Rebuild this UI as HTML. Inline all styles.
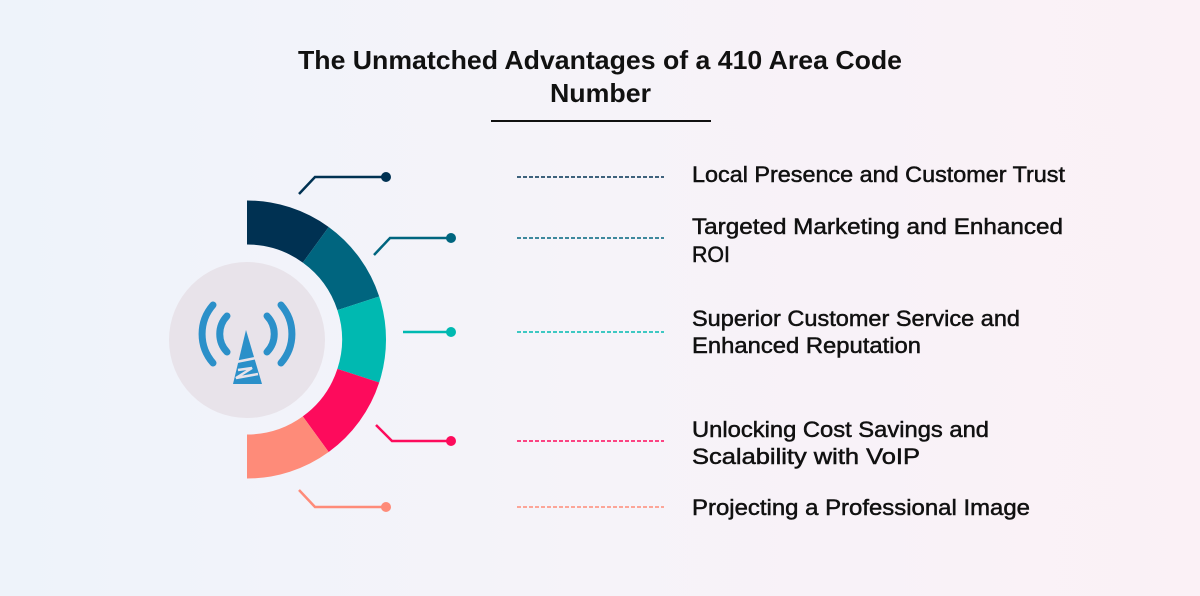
<!DOCTYPE html>
<html><head><meta charset="utf-8"><style>
html,body{margin:0;padding:0;}
body{width:1200px;height:596px;overflow:hidden;background:linear-gradient(90deg,#eef3fa 0%,#f6f3f9 50%,#fbf1f6 100%);}
svg{display:block}
text{font-family:"Liberation Sans",sans-serif;fill:#111;}
</style></head><body>
<svg width="1200" height="596" viewBox="0 0 1200 596">
<g font-weight="bold" font-size="26">
<text x="298" y="69" textLength="604" lengthAdjust="spacingAndGlyphs">The Unmatched Advantages of a 410 Area Code</text>
<text x="550" y="102" textLength="101" lengthAdjust="spacingAndGlyphs">Number</text>
</g>
<line x1="491" y1="121" x2="711" y2="121" stroke="#111" stroke-width="2"/>
<g transform="translate(247,339.5)">
<path d="M0,-139 A139,139 0 0 1 81.7,-112.5 L55.8,-76.9 A95,95 0 0 0 0,-95 Z" fill="#003152"/>
<path d="M81.7,-112.5 A139,139 0 0 1 132.2,-43 L90.4,-29.4 A95,95 0 0 0 55.8,-76.9 Z" fill="#00657f"/>
<path d="M132.2,-43 A139,139 0 0 1 132.2,43 L90.4,29.4 A95,95 0 0 0 90.4,-29.4 Z" fill="#00b9b1"/>
<path d="M132.2,43 A139,139 0 0 1 81.7,112.5 L55.8,76.9 A95,95 0 0 0 90.4,29.4 Z" fill="#fd0b5c"/>
<path d="M81.7,112.5 A139,139 0 0 1 0,139 L0,95 A95,95 0 0 0 55.8,76.9 Z" fill="#fe8b79"/>
</g>
<circle cx="247" cy="340" r="78" fill="#e8e3ea"/>
<g fill="none" stroke="#2b90c9" stroke-width="7" stroke-linecap="round">
<path d="M227,316 A26,26 0 0 0 227,352"/>
<path d="M267,316 A26,26 0 0 1 267,352"/>
<path d="M213,305 A44,44 0 0 0 213,363"/>
<path d="M281,305 A44,44 0 0 1 281,363"/>
</g>
<path d="M246,330 L262,384 L233,384 Z" fill="#2b90c9"/>
<path d="M236,362 L256,358 M238,370 L252,368 L236,378 L258,374" stroke="#e8e3ea" stroke-width="2.5" fill="none"/>
<g stroke-width="2.5" fill="none">
<polyline points="299,194 315,177 386,177" stroke="#003152"/>
<polyline points="374,255 390,238 451,238" stroke="#00657f"/>
<polyline points="403,332 451,332" stroke="#00b9b1"/>
<polyline points="376,425 392,441 451,441" stroke="#fd0b5c"/>
<polyline points="299,490 315,507 386,507" stroke="#fe8b79"/>
</g>
<circle cx="386" cy="177" r="5" fill="#003152"/>
<circle cx="451" cy="238" r="5" fill="#00657f"/>
<circle cx="451" cy="332" r="5" fill="#00b9b1"/>
<circle cx="451" cy="441" r="5" fill="#fd0b5c"/>
<circle cx="386" cy="507" r="5" fill="#fe8b79"/>
<g stroke-width="1.5" stroke-dasharray="4,2">
<line x1="517" y1="177" x2="664" y2="177" stroke="#003152"/>
<line x1="517" y1="238" x2="664" y2="238" stroke="#00657f"/>
<line x1="517" y1="332" x2="664" y2="332" stroke="#00b9b1"/>
<line x1="517" y1="441" x2="664" y2="441" stroke="#fd0b5c"/>
<line x1="517" y1="507" x2="664" y2="507" stroke="#fe8b79"/>
</g>
<g font-size="22" stroke="#111" stroke-width="0.5">
<text x="692" y="182" textLength="373" lengthAdjust="spacingAndGlyphs">Local Presence and Customer Trust</text>
<text x="692" y="234" textLength="371" lengthAdjust="spacingAndGlyphs">Targeted Marketing and Enhanced</text>
<text x="692" y="262" textLength="38" lengthAdjust="spacingAndGlyphs">ROI</text>
<text x="692" y="326" textLength="328" lengthAdjust="spacingAndGlyphs">Superior Customer Service and</text>
<text x="692" y="353" textLength="229" lengthAdjust="spacingAndGlyphs">Enhanced Reputation</text>
<text x="692" y="437" textLength="297" lengthAdjust="spacingAndGlyphs">Unlocking Cost Savings and</text>
<text x="692" y="464" textLength="228" lengthAdjust="spacingAndGlyphs">Scalability with VoIP</text>
<text x="692" y="515" textLength="338" lengthAdjust="spacingAndGlyphs">Projecting a Professional Image</text>
</g>
</svg>
</body></html>
